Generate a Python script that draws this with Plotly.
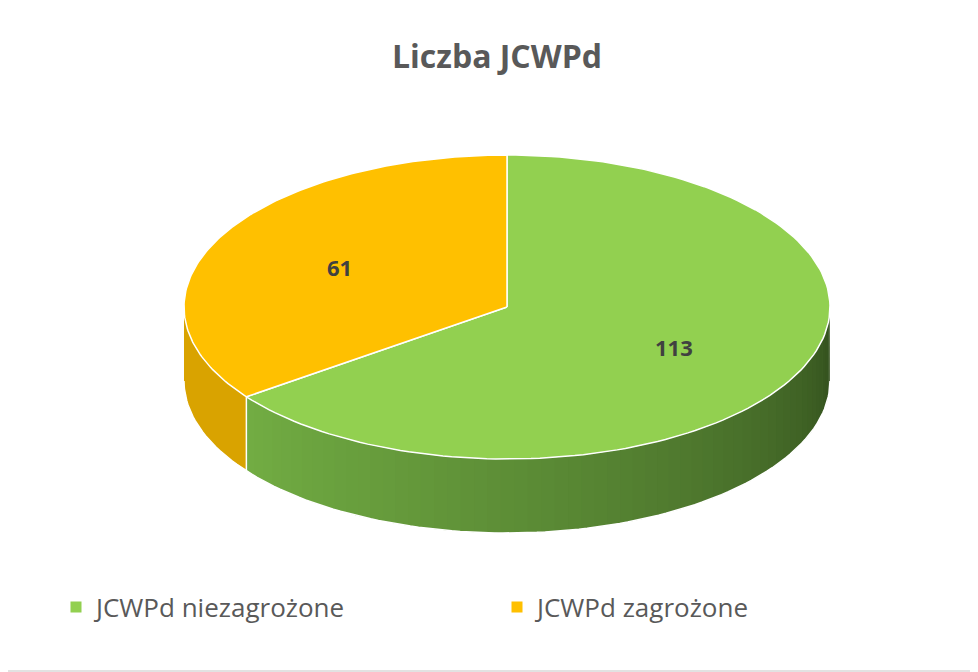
import numpy as np
import plotly.graph_objects as go

# data
categories = ["JCWPd niezagrożone", "JCWPd zagrożone"]
values = [113, 61]
colors_top = ["#92D050", "#FFC000"]
title = "Liczba JCWPd"

W, H = 978, 672
OFF = 8  # page body margin
cx, cy, rx, ry, depth = 507, 307, 323, 152, 74


def pt(t):
    r = np.radians(t)
    return cx + rx * np.sin(r), cy - ry * np.cos(r)


def arc(a, b, n=80):
    ts = np.linspace(a, b, n)
    r = np.radians(ts)
    return cx + rx * np.sin(r), cy - ry * np.cos(r)


def mix(c1, c2, f):
    c1 = [int(c1[i:i + 2], 16) for i in (1, 3, 5)]
    c2 = [int(c2[i:i + 2], 16) for i in (1, 3, 5)]
    c = [round(c1[k] + (c2[k] - c1[k]) * f) for k in range(3)]
    return "rgb(%d,%d,%d)" % tuple(c)


fig = go.Figure()

total = sum(values)
starts = np.cumsum([0] + values[:-1]) / total * 360
ends = np.cumsum(values) / total * 360

# side walls (front half: 90..270 deg)
for i in range(len(values)):
    a, b = max(starts[i], 90), min(ends[i], 270)
    if a >= b:
        continue
    nseg = 60 if i == 0 else 1
    edges = np.linspace(a, b, nseg + 1)
    for k in range(nseg):
        f = (k + 0.5) / nseg
        if i == 0:
            col = mix("#2F4A1B", "#72AD43", f ** 0.8)
        else:
            col = "#D9A300"
        x, y = arc(edges[k], min(edges[k + 1] + 0.6, b), 8)
        xs = list(x) + list(x[::-1])
        ys = list(y) + list(y[::-1] + depth)
        fig.add_trace(go.Scatter(x=xs, y=ys, fill="toself", fillcolor=col, mode="lines",
                                 line=dict(color=col, width=0), showlegend=False, hoverinfo="skip"))

# wall outline
x, y = arc(90, 270, 120)
fig.add_trace(go.Scatter(x=list(x) + [None] + [pt(ends[0])[0]] * 2,
                         y=list(y + depth) + [None] + [pt(ends[0])[1], pt(ends[0])[1] + depth],
                         mode="lines", line=dict(color="white", width=1.5),
                         showlegend=False, hoverinfo="skip"))

# top sectors
for i in range(len(values)):
    x, y = arc(starts[i], ends[i], 150)
    fig.add_trace(go.Scatter(x=[cx] + list(x) + [cx], y=[cy] + list(y) + [cy], fill="toself",
                             fillcolor=colors_top[i], mode="lines", line=dict(color="white", width=1.5),
                             showlegend=False, hoverinfo="skip"))
    fig.add_trace(go.Scatter(x=[None], y=[None], mode="markers", name=categories[i],
                             marker=dict(symbol="square", size=11, color=colors_top[i])))
    mid = (starts[i] + ends[i]) / 2
    lx, ly = cx + 0.58 * rx * np.sin(np.radians(mid)), cy - 0.58 * ry * np.cos(np.radians(mid))
    fig.add_annotation(x=lx, y=ly, text="<b>%d</b>" % values[i], showarrow=False,
                       font=dict(size=22, color="#404040", family="Open Sans"))

fig.add_shape(type="rect", x0=1, y0=1, x1=W - 1, y1=H - 1,
              line=dict(color="#D9D9D9", width=1.5))

fig.update_layout(
    width=W, height=H, margin=dict(l=0, r=0, t=0, b=0),
    plot_bgcolor="white", paper_bgcolor="white",
    title=dict(text="<b>" + title + "</b>", x=0.5, y=1 - (57 - OFF) / H, yanchor="middle",
               font=dict(size=32, color="#595959", family="Open Sans")),
    xaxis=dict(range=[OFF, W + OFF], visible=False, fixedrange=True),
    yaxis=dict(range=[H + OFF, OFF], visible=False, fixedrange=True),
    legend=dict(orientation="h", x=0.5, xanchor="center", y=1 - (607 - OFF) / H, yanchor="middle",
                font=dict(size=26, color="#595959", family="Open Sans"),
                itemwidth=30, entrywidth=396),
)

fig.write_html("out.html")
